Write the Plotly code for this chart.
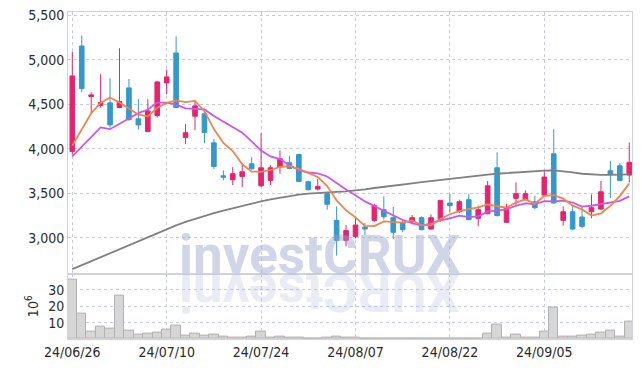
import plotly.graph_objects as go

dates = ["2024-06-26","2024-06-27","2024-06-28","2024-07-01","2024-07-02","2024-07-03","2024-07-04","2024-07-05",
         "2024-07-08","2024-07-09","2024-07-10","2024-07-11","2024-07-12","2024-07-15","2024-07-16","2024-07-17",
         "2024-07-18","2024-07-19","2024-07-22","2024-07-23","2024-07-24","2024-07-25","2024-07-26","2024-07-29",
         "2024-07-30","2024-07-31","2024-08-01","2024-08-02","2024-08-05","2024-08-06","2024-08-07","2024-08-08",
         "2024-08-09","2024-08-12","2024-08-13","2024-08-14","2024-08-16","2024-08-19","2024-08-20","2024-08-21",
         "2024-08-22","2024-08-23","2024-08-26","2024-08-27","2024-08-28","2024-08-29","2024-08-30","2024-09-02",
         "2024-09-03","2024-09-04","2024-09-05","2024-09-06","2024-09-09","2024-09-10","2024-09-11","2024-09-12",
         "2024-09-13","2024-09-19","2024-09-20","2024-09-23"]

open_ = [3970,5153,4586,4485,4515,4463,4683,4336,4194,4373,4739,5075,4127,4365,4392,
         4067,3697,3653,3690,3832,3586,3645,3795,3843,3936,3630,3548,3496,3197,2973,
         3018,3123,3197,3317,3227,3175,3182,3227,3100,3205,3391,3294,3429,3220,3272,
         3787,3175,3444,3429,3406,3481,3944,3197,3294,3235,3294,3324,3753,3809,3705]
high = [5090,5270,4634,4836,4791,5127,4783,4556,4556,4754,4888,5261,4276,4537,4418,
        4108,3757,3794,3817,3906,4175,3817,3981,3921,3944,3640,3660,3518,3354,3145,
        3235,3167,3384,3466,3347,3212,3257,3242,3264,3421,3496,3429,3496,3362,3638,
        3959,3384,3623,3533,3474,3750,4220,3354,3362,3347,3488,3638,3865,3839,4071]
low = [3933,4634,4399,4462,4239,4455,4313,4216,4186,4350,4612,4462,4052,4209,4063,
       3772,3645,3593,3571,3765,3571,3593,3720,3775,3634,3533,3533,3317,2802,2906,
       2996,3033,3182,3205,2988,3063,3152,3085,3093,3182,3287,3279,3205,3130,3265,
       3242,3175,3354,3429,3324,3481,3384,3138,3085,3108,3220,3317,3447,3645,3623]
close = [4817,4675,4604,4518,4268,4530,4328,4268,4425,4750,4806,4462,4179,4481,4183,
         3802,3682,3720,3742,3776,3787,3787,3888,3780,3634,3541,3578,3377,2973,3082,
         3145,3100,3362,3238,3063,3093,3227,3093,3227,3421,3362,3406,3205,3317,3585,
         3250,3339,3496,3496,3339,3683,3392,3294,3100,3130,3339,3518,3713,3645,3847]

ma5 = [4035,4212,4399,4515,4576,4519,4450,4382,4364,4460,4515,4542,4524,4536,4422,
       4221,4065,3974,3826,3744,3741,3762,3796,3804,3775,3726,3684,3582,3421,3310,
       3231,3135,3132,3185,3182,3171,3197,3143,3141,3212,3266,3302,3324,3342,3375,
       3353,3339,3397,3433,3384,3471,3481,3441,3362,3320,3251,3276,3360,3469,3612]
ma10 = [3914,4026,4134,4239,4220,4280,4345,4400,4440,4518,4517,4496,4453,4450,4441,
        4368,4304,4249,4181,4083,3981,3914,3885,3815,3760,3734,3723,3689,3612,3543,
        3479,3410,3357,3303,3246,3201,3166,3138,3163,3197,3219,3249,3234,3241,3294,
        3309,3321,3361,3388,3380,3412,3410,3419,3397,3352,3361,3379,3400,3415,3466]
ma_long = [2650,2695,2740,2785,2830,2872,2915,2960,3005,3050,3095,3140,3180,3215,3248,
           3278,3305,3333,3360,3385,3410,3432,3452,3470,3485,3497,3506,3512,3517,3523,
           3530,3545,3560,3575,3590,3602,3613,3625,3638,3650,3662,3675,3688,3700,3710,
           3720,3728,3735,3743,3750,3755,3757,3750,3735,3720,3712,3708,3708,3708,3712]

volume_m = [36.3,15.5,4.4,7.7,6.2,26.5,5.4,2.6,3.4,4.0,5.6,8.1,2.1,3.4,2.1,
            2.6,1.3,0.7,0.7,1.3,4.4,1.0,1.3,1.0,0.7,0.3,0.3,1.0,1.3,1.0,
            1.0,0.5,0.5,0.5,0.5,0.3,0.3,0.5,0.5,0.3,0.5,0.3,0.3,0.3,3.4,
            8.8,0.7,2.6,1.0,0.7,4.4,19.2,1.3,1.3,2.1,2.8,3.9,5.0,1.3,10.6]

tick_idx = [0, 10, 20, 30, 40, 50]
price_ticks = [3000, 3500, 4000, 4500, 5000, 5500]
vol_ticks = [10, 20, 30]

x = list(range(len(dates)))
tick_text = [dates[i][2:].replace("-", "/") for i in tick_idx]

UP = "#e8226e"
DOWN = "#3399cc"
GRID = "#c9cbe0"
BORDER = "#d2d2da"
FONT = "DejaVu Sans Condensed, Liberation Sans Narrow, Roboto, sans-serif"

fig = go.Figure()
fig.add_trace(go.Bar(x=x, y=volume_m, yaxis="y2", marker=dict(color="#d6d6d6", line=dict(color="#b2b2b2", width=1)),
                     showlegend=False))
fig.add_trace(go.Scatter(x=x, y=ma_long, mode="lines", line=dict(color="#808080", width=1.8), showlegend=False))
fig.add_trace(go.Scatter(x=x, y=ma10, mode="lines", line=dict(color="#cc55ee", width=1.8), showlegend=False))
fig.add_trace(go.Scatter(x=x, y=ma5, mode="lines", line=dict(color="#f0844c", width=1.8), showlegend=False))
fig.add_trace(go.Candlestick(x=x, open=open_, high=high, low=low, close=close,
                             increasing=dict(line=dict(color=UP, width=1), fillcolor=UP),
                             decreasing=dict(line=dict(color=DOWN, width=1), fillcolor=DOWN),
                             whiskerwidth=0, showlegend=False))

axis_font = dict(family=FONT, size=14, color="#2a2a2a")
fig.update_layout(
    width=634, height=360,
    margin=dict(l=60, r=10, t=4, b=28.5, autoexpand=False),
    paper_bgcolor="white", plot_bgcolor="white",
    bargap=0, boxgap=0.3,
    xaxis=dict(range=[-0.455, 59.29], tickvals=tick_idx, ticktext=tick_text, anchor="y2", automargin=False,
               showgrid=True, gridcolor=GRID, griddash="dot", gridwidth=1,
               showline=True, linecolor=BORDER, linewidth=1, mirror="all", ticklabeloverflow="allow",
               ticks="", tickfont=axis_font, rangeslider=dict(visible=False), zeroline=False),
    yaxis=dict(domain=[0.2, 1], range=[2600, 5534], tickvals=price_ticks, tickformat=",", automargin=False,
               showgrid=True, gridcolor=GRID, griddash="dot", gridwidth=1,
               showline=True, linecolor=BORDER, linewidth=1, mirror="all", ticklabeloverflow="allow",
               ticks="", tickfont=axis_font, zeroline=False),
    yaxis2=dict(domain=[0, 0.2], range=[0, 40], tickvals=vol_ticks, automargin=False,
                showgrid=True, gridcolor=GRID, griddash="dot", gridwidth=1,
                showline=True, linecolor=BORDER, linewidth=1, mirror="all", ticklabeloverflow="allow",
                ticks="", tickfont=axis_font, zeroline=False,
                title=dict(text="10<sup>6</sup>", font=dict(family=FONT, size=14, color="#2a2a2a"), standoff=6)),
    annotations=[
        dict(text="investCRUX", xref="paper", yref="paper", x=0.446, y=0.258, xanchor="center", yanchor="middle",
             showarrow=False, font=dict(family="Roboto", size=53, weight=700, color="rgba(150,162,205,0.45)")),
        dict(text="XURCtsevni", xref="paper", yref="paper", x=0.446, y=0.146, xanchor="center", yanchor="middle",
             textangle=180, showarrow=False,
             font=dict(family="Roboto", size=53, weight=700, color="rgba(150,162,205,0.2)")),
    ],
)

fig.write_html("out.html")
